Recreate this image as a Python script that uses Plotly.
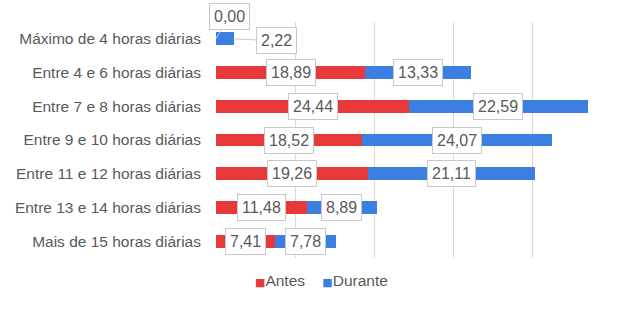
import plotly.graph_objects as go

categories = ["Máximo de 4 horas diárias", "Entre 4 e 6 horas diárias", "Entre 7 e 8 horas diárias",
              "Entre 9 e 10 horas diárias", "Entre 11 e 12 horas diárias", "Entre 13 e 14 horas diárias",
              "Mais de 15 horas diárias"]
antes = [0.00, 18.89, 24.44, 18.52, 19.26, 11.48, 7.41]
durante = [2.22, 13.33, 22.59, 24.07, 21.11, 8.89, 7.78]
series_names = ["Antes", "Durante"]

RED = "#e8393a"
BLUE = "#3b7fe2"
TXT = "#595959"
FONT = "Liberation Sans"

def fmt(v):
    return f"{v:.2f}".replace(".", ",")

fig = go.Figure()
fig.add_trace(go.Bar(y=categories, x=antes, orientation="h", name=series_names[0],
                     marker=dict(color=RED, line=dict(width=0)), showlegend=False))
fig.add_trace(go.Bar(y=categories, x=durante, orientation="h", name=series_names[1],
                     marker=dict(color=BLUE, line=dict(width=0)), showlegend=False))

box = dict(bgcolor="white", bordercolor="#c8c8c8", borderwidth=1, borderpad=4,
           font=dict(family=FONT, size=16, color=TXT))
for i, c in enumerate(categories):
    a, d = antes[i], durante[i]
    if i == 0:
        fig.add_annotation(x=a, y=c, text=fmt(a), showarrow=True, arrowhead=0, arrowwidth=1,
                           arrowcolor="#c8c8c8", ax=13, ay=-22, **box)
        fig.add_annotation(x=a + d, y=c, text=fmt(d), showarrow=True, arrowhead=0, arrowwidth=1,
                           arrowcolor="#c8c8c8", ax=43, ay=2, **box)
    else:
        fig.add_annotation(x=a / 2, y=c, text=fmt(a), showarrow=False, **box)
        fig.add_annotation(x=a + d / 2, y=c, text=fmt(d), showarrow=False, **box)

# legend drawn as text
sq = "font-family:DejaVu Sans;font-size:11px"
legend_text = (f"<span style='color:{RED};{sq}'>■</span>{series_names[0]}"
               f"    <span style='color:{BLUE};{sq}'>■</span>{series_names[1]}")
fig.add_annotation(xref="paper", yref="paper", x=(321 - 216) / 395, y=-(280 - 258) / 236,
                   xanchor="center", yanchor="middle", text=legend_text, showarrow=False,
                   font=dict(family=FONT, size=15.5, color=TXT))

fig.update_layout(
    barmode="stack", bargap=0.62,
    width=640, height=309,
    margin=dict(l=216, r=29, t=22, b=51, autoexpand=False),
    paper_bgcolor="white", plot_bgcolor="white",
    font=dict(family=FONT, size=15.5, color=TXT),
    xaxis=dict(range=[0, 50], dtick=10, showticklabels=False, showgrid=True,
               gridcolor="#d9d9d9", gridwidth=1, zeroline=False, showline=False, ticks=""),
    yaxis=dict(autorange="reversed", showgrid=False, ticks="", ticklabelstandoff=14,
               tickfont=dict(family=FONT, size=15.5, color=TXT)),
    showlegend=False,
)
fig.write_html("out.html")
